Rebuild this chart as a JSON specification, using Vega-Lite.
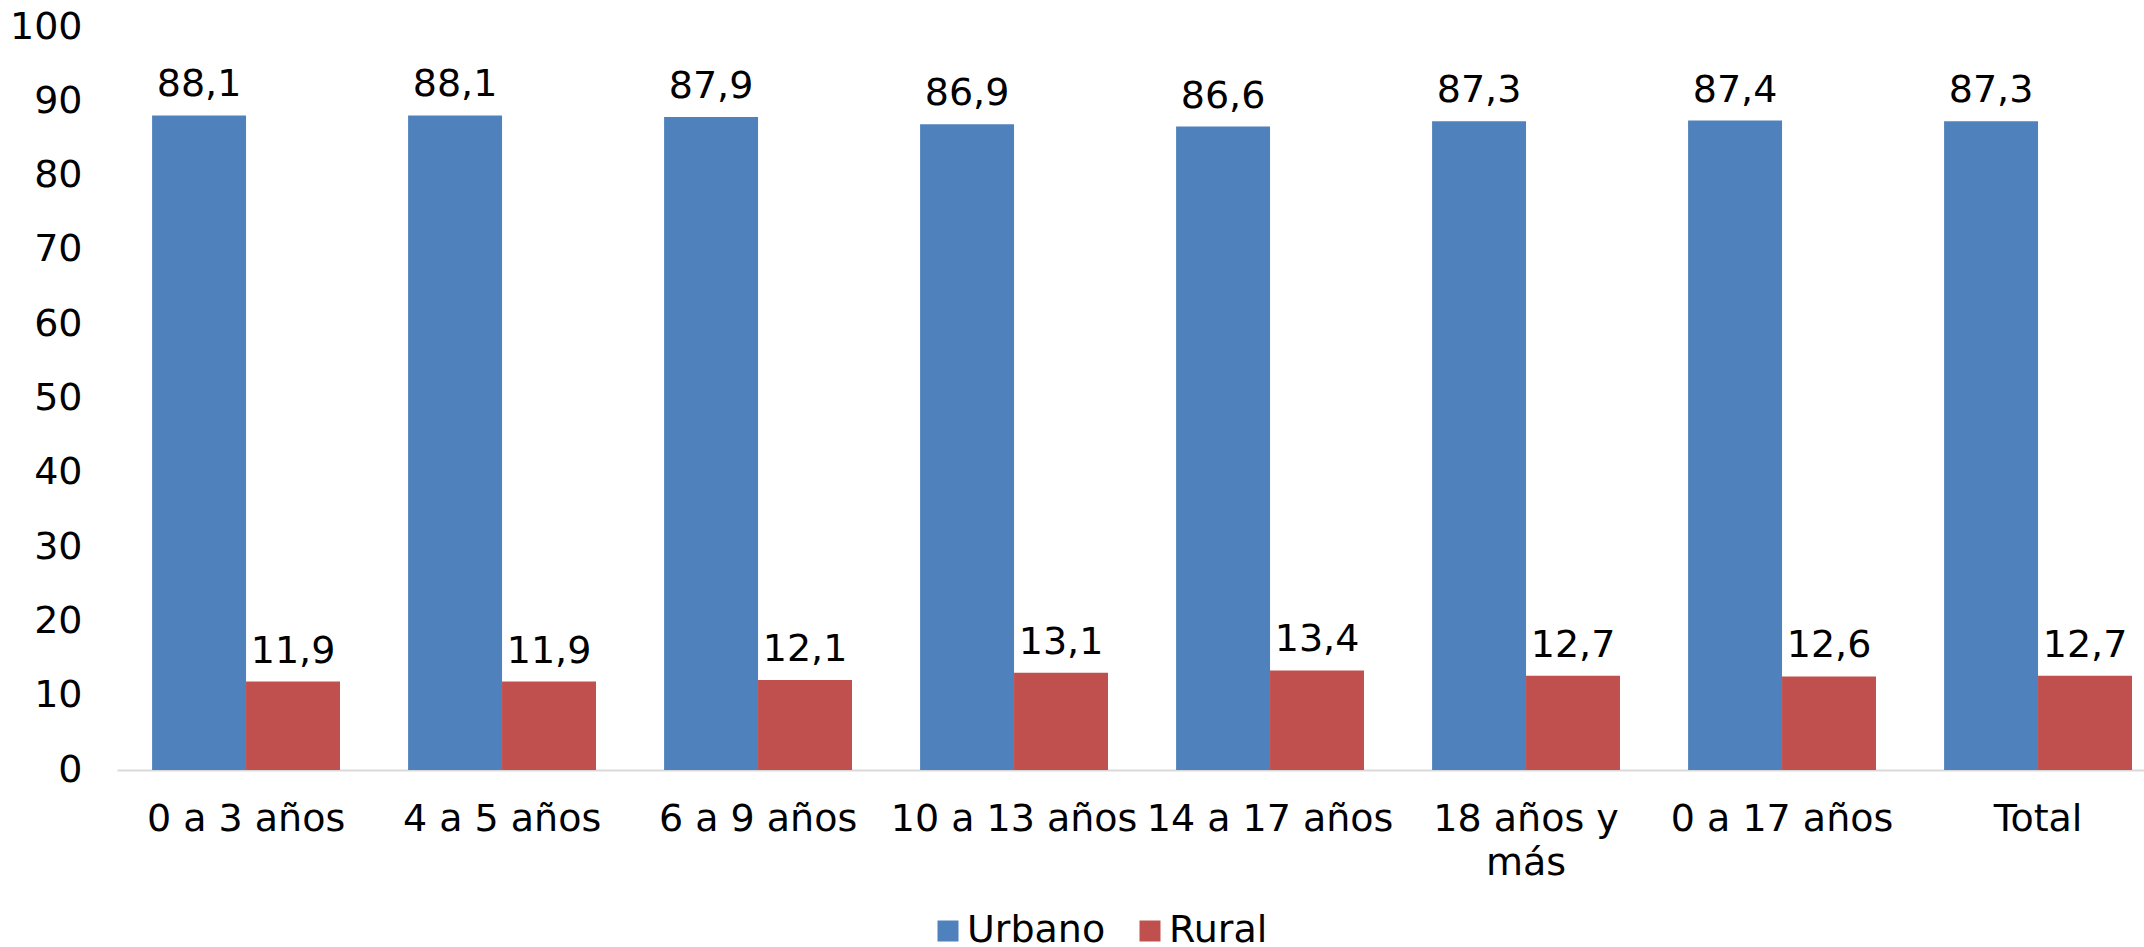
{
  "$schema": "https://vega.github.io/schema/vega-lite/v6.json",
  "autosize": "none",
  "width": 2027,
  "height": 743,
  "padding": {"left": 117, "top": 27, "right": 0, "bottom": 177},
  "config": {
    "locale": {"number": {"decimal": ",", "thousands": ".", "grouping": [3], "currency": ["", ""]}},
    "view": {"stroke": null},
    "font": "DejaVu Sans"
  },
  "data": {
    "values": [
      {"grupo": "0 a 3 años", "area": "Urbano", "valor": 88.1},
      {"grupo": "0 a 3 años", "area": "Rural", "valor": 11.9},
      {"grupo": "4 a 5 años", "area": "Urbano", "valor": 88.1},
      {"grupo": "4 a 5 años", "area": "Rural", "valor": 11.9},
      {"grupo": "6 a 9 años", "area": "Urbano", "valor": 87.9},
      {"grupo": "6 a 9 años", "area": "Rural", "valor": 12.1},
      {"grupo": "10 a 13 años", "area": "Urbano", "valor": 86.9},
      {"grupo": "10 a 13 años", "area": "Rural", "valor": 13.1},
      {"grupo": "14 a 17 años", "area": "Urbano", "valor": 86.6},
      {"grupo": "14 a 17 años", "area": "Rural", "valor": 13.4},
      {"grupo": "18 años y más", "area": "Urbano", "valor": 87.3},
      {"grupo": "18 años y más", "area": "Rural", "valor": 12.7},
      {"grupo": "0 a 17 años", "area": "Urbano", "valor": 87.4},
      {"grupo": "0 a 17 años", "area": "Rural", "valor": 12.6},
      {"grupo": "Total", "area": "Urbano", "valor": 87.3},
      {"grupo": "Total", "area": "Rural", "valor": 12.7}
    ]
  },
  "encoding": {
    "x": {
      "field": "grupo",
      "type": "nominal",
      "sort": ["0 a 3 años", "4 a 5 años", "6 a 9 años", "10 a 13 años", "14 a 17 años", "18 años y más", "0 a 17 años", "Total"],
      "scale": {"paddingInner": 0.266, "paddingOuter": 0.092, "align": 0.745},
      "axis": {
        "title": null,
        "domainColor": "#D9D9D9",
        "domainWidth": 2,
        "ticks": false,
        "grid": false,
        "labelAngle": 0,
        "labelFontSize": 38,
        "labelColor": "#000000",
        "labelPadding": 30,
        "labelLimit": 0,
        "labelOverlap": false,
        "labelLineHeight": 44,
        "labelExpr": "datum.label == '18 años y más' ? ['18 años y', 'más'] : datum.label"
      }
    },
    "xOffset": {
      "field": "area",
      "type": "nominal",
      "sort": ["Urbano", "Rural"],
      "scale": {"paddingInner": 0, "paddingOuter": 0}
    },
    "y": {
      "field": "valor",
      "type": "quantitative",
      "scale": {"domain": [0, 100]},
      "axis": {
        "title": null,
        "domain": false,
        "ticks": false,
        "grid": false,
        "values": [0, 10, 20, 30, 40, 50, 60, 70, 80, 90, 100],
        "labelFontSize": 38,
        "labelColor": "#000000",
        "labelPadding": 35
      }
    }
  },
  "layer": [
    {
      "mark": {"type": "bar"},
      "encoding": {
        "color": {
          "field": "area",
          "type": "nominal",
          "scale": {"domain": ["Urbano", "Rural"], "range": ["#4F81BD", "#C0504D"]},
          "legend": {
            "orient": "none",
            "direction": "horizontal",
            "legendX": 812,
            "legendY": 885,
            "title": null,
            "symbolType": "square",
            "symbolSize": 441,
            "symbolStrokeWidth": 0,
            "labelFontSize": 38,
            "labelColor": "#000000",
            "labelOffset": 0,
            "columnPadding": 25
          }
        }
      }
    },
    {
      "mark": {"type": "text", "baseline": "alphabetic", "dy": -19, "fontSize": 38, "color": "#000000"},
      "encoding": {
        "text": {"field": "valor", "type": "quantitative", "format": ".1f"}
      }
    }
  ]
}
